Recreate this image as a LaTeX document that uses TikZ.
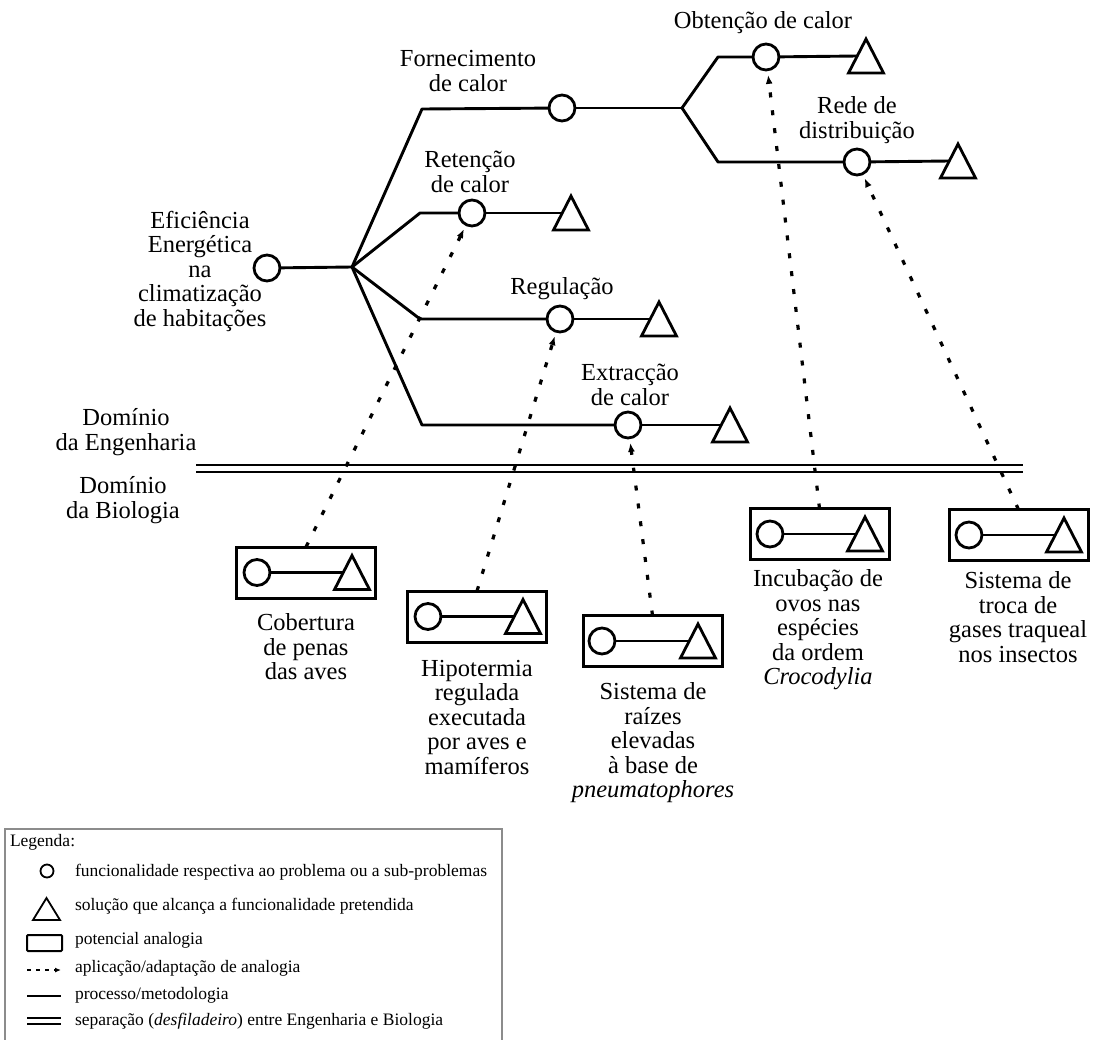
\documentclass[tikz,border=0pt]{standalone}
\usepackage{fontspec}
\setmainfont{Liberation Serif}
\usetikzlibrary{arrows.meta}

\tikzset{
  soltri/.pic={
    \draw[line width=2.8pt, line join=miter] (0,-17) -- (17.5,17) -- (-17.5,17) -- cycle;
    \coordinate (-in) at (-8.75,0);
  },
  lbl/.style={align=center, font=\fontsize{24.5}{24.5}\selectfont},
  leg/.style={anchor=west, font=\fontsize{17.5}{20}\selectfont},
  func/.style={circle, draw, line width=2.8pt, minimum size=26pt, fill=white},
  proc/.style={line width=2.9pt, line cap=round, line join=round},
  analog/.style={draw, line width=3pt, minimum width=139pt, minimum height=51pt},
  adapt/.style={line width=3.2pt, dash pattern=on 5pt off 13pt,
    -{Latex[length=9pt,width=7pt]}, shorten >=5pt},
  sepline/.style={line width=2.2pt},
}

\begin{document}
\begin{tikzpicture}[x=1pt, y=-1pt, every node/.style={inner sep=0pt, outer sep=0pt}]
\useasboundingbox (0,0) rectangle (1094,1039);
\fill[white] (0,0) rectangle (1094,1039);

% ---------- problem decomposition tree ----------
\node[func] (M) at (267,268) {};
\coordinate (J) at (352,267);
\coordinate (kF) at (422,109);
\coordinate (kRt) at (420,213);
\coordinate (kRg) at (420,319);
\coordinate (kE) at (422,425);
\node[func] (F) at (562,108) {};
\coordinate (J2) at (682,108);
\coordinate (kO) at (718,57);
\coordinate (kR) at (718,162);
\node[func] (O) at (766,57) {};
\node[func] (R) at (857,162) {};
\node[func] (Rt) at (472,213) {};
\node[func] (Rg) at (560,319) {};
\node[func] (E) at (628,425) {};
\pic (tO) at (866,56) {soltri};
\pic (tR) at (958,161) {soltri};
\pic (tRt) at (571,213) {soltri};
\pic (tRg) at (659,319) {soltri};
\pic (tE) at (730,425) {soltri};

\draw[proc] (M) -- (J);
\draw[proc] (J) -- (kF) -- (F);
\draw[proc] (F) -- (J2);
\draw[proc] (J2) -- (kO) -- (O);
\draw[proc] (O) -- (tO-in);
\draw[proc] (J2) -- (kR) -- (R);
\draw[proc] (R) -- (tR-in);
\draw[proc] (J) -- (kRt) -- (Rt);
\draw[proc] (Rt) -- (tRt-in);
\draw[proc] (J) -- (kRg) -- (Rg);
\draw[proc] (Rg) -- (tRg-in);
\draw[proc] (J) -- (kE) -- (E);
\draw[proc] (E) -- (tE-in);

% tree labels
\node[lbl] (lM) at (200,271) {Eficiência\\Energética\\na\\climatização\\de habitações};
\node[lbl] (lF) at (468,71) {Fornecimento\\de calor};
\node[lbl] (lO) at (763,23) {Obtenção de calor};
\node[lbl] (lR) at (857,120) {Rede de\\distribuição};
\node[lbl] (lRt) at (470,172) {Retenção\\de calor};
\node[lbl] (lRg) at (562,289) {Regulação};
\node[lbl] (lE) at (630,385) {Extracção\\de calor};

% ---------- separation between the two domains ----------
\draw[sepline] (196,465) -- (1023,465);
\draw[sepline] (196,472) -- (1023,472);
\node[lbl] (dEng) at (126,432) {Domínio\\da Engenharia};
\node[lbl] (dBio) at (123,500) {Domínio\\da Biologia};

% ---------- biological analogies ----------
\node[analog] (bx1) at (306,572.5) {};
\node[func] (b1c) at (257,572.5) {};
\pic (b1t) at (352,572.5) {soltri};
\draw[proc] (b1c) -- (b1t-in);

\node[analog] (bx2) at (477,616.5) {};
\node[func] (b2c) at (428,616.5) {};
\pic (b2t) at (523,616.5) {soltri};
\draw[proc] (b2c) -- (b2t-in);

\node[analog] (bx3) at (652.5,641) {};
\node[func] (b3c) at (602,641) {};
\pic (b3t) at (698,641) {soltri};
\draw[proc] (b3c) -- (b3t-in);

\node[analog] (bx4) at (819.5,534) {};
\node[func] (b4c) at (770,534) {};
\pic (b4t) at (865,534) {soltri};
\draw[proc] (b4c) -- (b4t-in);

\node[analog] (bx5) at (1018.5,535) {};
\node[func] (b5c) at (969,535) {};
\pic (b5t) at (1064,535) {soltri};
\draw[proc] (b5c) -- (b5t-in);

\node[lbl] (l1) at (306,647) {Cobertura\\de penas\\das aves};
\node[lbl] (l2) at (477,717) {Hipotermia\\regulada\\executada\\por aves e\\mamíferos};
\node[lbl] (l3) at (653,743) {Sistema de\\raízes\\elevadas\\à base de\\\textit{pneumatophores}};
\node[lbl] (l4) at (818,630) {Incubação de\\ovos nas\\espécies\\da ordem\\\textit{Crocodylia}};
\node[lbl] (l5) at (1018,617) {Sistema de\\troca de\\gases traqueal\\nos insectos};

% ---------- application of the analogies ----------
\draw[adapt] (bx1.north) -- (Rt);
\draw[adapt] (bx2.north) -- (Rg);
\draw[adapt] (bx3.north) -- (E);
\draw[adapt] (bx4.north) -- (O);
\draw[adapt] (bx5.north) -- (R);

% ---------- legend ----------
\draw[black!45, line width=1.2pt] (5,1045) |- (502,829) -- (502,1045);
\node[leg] (legT) at (10,842) {Legenda:};
\node[circle, draw, line width=1.8pt, minimum size=13pt] (sC) at (47,871) {};
\draw[line width=1.8pt, line join=miter] (46.5,898) -- (60,920) -- (33,920) -- cycle;
\draw[line width=2pt, rounded corners=1pt] (27,935) rectangle (62,951);
\coordinate (sA1) at (27,970);
\coordinate (sA2) at (61,970);
\draw[line width=1.8pt, dash pattern=on 4pt off 5pt, -{Latex[length=6pt,width=5pt]}] (sA1) -- (sA2);
\draw[line width=1.8pt] (27,996) -- (61,996);
\draw[line width=1.6pt] (27,1018) -- (61,1018);
\draw[line width=1.6pt] (27,1024) -- (61,1024);
\node[leg] at (75,872) {funcionalidade respectiva ao problema ou a sub-problemas};
\node[leg] at (75,906) {solução que alcança a funcionalidade pretendida};
\node[leg] at (75,940) {potencial analogia};
\node[leg] at (75,968) {aplicação/adaptação de analogia};
\node[leg] at (75,995) {processo/metodologia};
\node[leg] at (75,1021) {separação (\textit{desfiladeiro}) entre Engenharia e Biologia};
\end{tikzpicture}
\end{document}
